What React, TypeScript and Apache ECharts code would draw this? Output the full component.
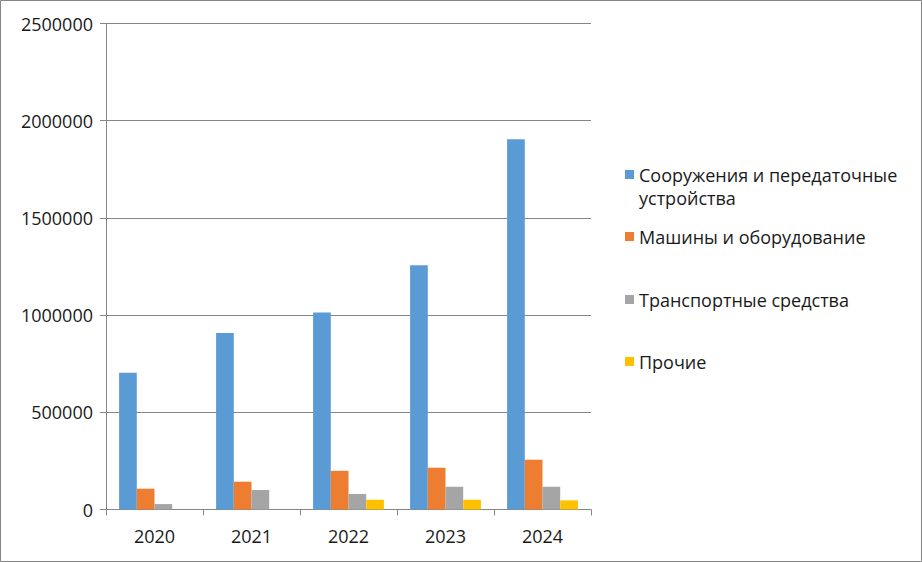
import React, { useEffect, useRef } from "react";
import * as echarts from "echarts";

const categories = ["2020", "2021", "2022", "2023", "2024"];
const seriesNames = [
  "Сооружения и передаточные устройства",
  "Машины и оборудование",
  "Транспортные средства",
  "Прочие",
];
const structures = [703000, 908000, 1013000, 1256000, 1904000];
const machines = [107000, 143000, 199000, 215000, 256000];
const transport = [28000, 100000, 80000, 117000, 117000];
const other = [0, 0, 50000, 50000, 47000];
const colors = ["#5B9BD5", "#ED7D31", "#A5A5A5", "#FFC000"];

const FONT = "Open Sans";
const TEXT = "#1a1a1a";

export default function App() {
  const ref = useRef<HTMLDivElement>(null);
  useEffect(() => {
    document.body.style.margin = "0";
    const chart = echarts.init(ref.current!, null, { renderer: "svg" });
    const values = [structures, machines, transport, other];
    const legendBase = {
      orient: "vertical" as const,
      left: 625,
      itemWidth: 9,
      itemHeight: 9,
      icon: "rect",
      padding: 0,
      itemGap: 0,
      selectedMode: false,
    };
    const legendText = { fontFamily: FONT, fontSize: 18, color: TEXT, lineHeight: 23 };
    chart.setOption({
      animation: false,
      color: colors,
      grid: { left: 106, right: 331, top: 23.5, bottom: 52.5, containLabel: false },
      legend: [
        {
          ...legendBase,
          top: 140,
          data: [seriesNames[0]],
          formatter: () => " \nСооружения и передаточные\nустройства",
          textStyle: legendText,
        },
        { ...legendBase, top: 225, data: [seriesNames[1]], textStyle: legendText },
        { ...legendBase, top: 288, data: [seriesNames[2]], textStyle: legendText },
        { ...legendBase, top: 350, data: [seriesNames[3]], textStyle: legendText },
      ],
      xAxis: {
        type: "category",
        data: categories,
        axisLine: { show: true, lineStyle: { color: "#868686", width: 1 } },
        axisTick: { show: true, length: 6, lineStyle: { color: "#868686" } },
        axisLabel: {
          fontFamily: FONT,
          fontSize: 18,
          color: TEXT,
          margin: 17,
        },
        splitLine: { show: false },
      },
      yAxis: {
        type: "value",
        min: 0,
        max: 2500000,
        interval: 500000,
        axisLine: { show: true, lineStyle: { color: "#868686", width: 1 } },
        axisTick: { show: true, length: 6, lineStyle: { color: "#868686" } },
        axisLabel: {
          fontFamily: FONT,
          fontSize: 18,
          color: TEXT,
          margin: 13,
          formatter: (v: number) => String(v),
        },
        splitLine: { show: true, lineStyle: { color: "#868686", width: 1 } },
      },
      series: seriesNames.map((name, i) => ({
        name,
        type: "bar",
        data: values[i],
        barGap: "0%",
        barCategoryGap: "27%",
        itemStyle: { color: colors[i] },
      })),
      graphic: [
        {
          type: "rect",
          shape: { x: 0.5, y: 0.5, width: 921, height: 561 },
          style: { fill: "none", stroke: "#868686", lineWidth: 1 },
          silent: true,
        },
      ],
    });
    return () => chart.dispose();
  }, []);
  return <div ref={ref} style={{ width: 922, height: 562 }} />;
}
